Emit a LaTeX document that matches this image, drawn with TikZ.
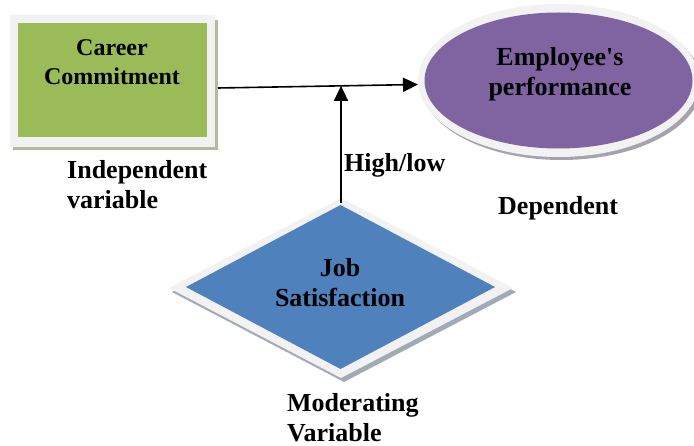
\documentclass[tikz,border=0pt]{standalone}
\usepackage{fontspec}
\setmainfont{Liberation Serif}
\usetikzlibrary{shapes.geometric,arrows.meta,calc}
\definecolor{ccgreen}{HTML}{9BBB59}
\definecolor{eppurple}{HTML}{8064A2}
\definecolor{jsblue}{HTML}{4F81BD}
\definecolor{framegray}{HTML}{F2F2F2}
\definecolor{boxshadow}{HTML}{B4BC9F}
\definecolor{ellshadow}{HTML}{A6A2AE}
\definecolor{diashadow}{HTML}{A0AAB8}
\begin{document}
\begin{tikzpicture}[x=1pt,y=-1pt,
  lbl/.style={font=\bfseries\fontsize{26}{30}\selectfont, align=left, inner sep=0pt},
  inlbl/.style={font=\bfseries\fontsize{24}{29}\selectfont, align=center, inner sep=0pt},
  rectbox/.style={rectangle, inner sep=0pt, outer sep=0pt, draw=none},
  ellbox/.style={ellipse, inner sep=0pt, outer sep=0pt, draw=none},
  diabox/.style={diamond, inner sep=0pt, outer sep=0pt, draw=none},
  arr/.style={line width=1.6pt, -{Triangle[length=15pt,width=14pt]}}
]
\useasboundingbox (0,0) rectangle (694,446);
% Career Commitment box
\node[rectbox, fill=boxshadow, minimum width=205pt, minimum height=130pt] (ccs) at (115.5,85) {};
\node[rectbox, fill=framegray, minimum width=205pt, minimum height=132pt] (ccf) at (112.5,81) {};
\node[rectbox, fill=ccgreen, minimum width=189pt, minimum height=114pt] (cc) at (112.5,80) {};
\node[inlbl] (cct) at (112,62) {Career\\Commitment};
% Employee's performance ellipse
\node[ellbox, fill=ellshadow, minimum width=281pt, minimum height=152pt] (eps) at (561.5,84) {};
\node[ellbox, fill=framegray, minimum width=281pt, minimum height=153pt] (epf) at (558.5,80.5) {};
\node[ellbox, fill=eppurple, minimum width=268pt, minimum height=136pt] (ep) at (558.5,80.5) {};
\node[lbl, align=center] (ept) at (560,74) {Employee\textquotesingle s\\performance};
% Job Satisfaction diamond
\node[diabox, fill=diashadow, minimum width=344pt, minimum height=180pt] (jss) at (344,292) {};
\node[diabox, fill=framegray, minimum width=344pt, minimum height=180pt] (jsf) at (341,288) {};
\node[diabox, fill=jsblue, minimum width=309pt, minimum height=164pt] (js) at (340.5,287) {};
\node[lbl, align=center] (jst) at (340,283) {Job\\Satisfaction};
% labels
\node[lbl, anchor=west] (iv) at (67,185) {Independent\\variable};
\node[lbl, anchor=west] (hl) at (344,165) {High/low};
\node[lbl, anchor=west] (dep) at (498,208) {Dependent};
\node[lbl, anchor=west] (mv) at (287,418) {Moderating\\Variable};
% connectors
\coordinate (a) at ($(ccf.east)+(3pt,-7pt)$);
\coordinate (b) at ($(epf.west)+(0pt,-4pt)$);
\draw[arr] (a) -- (b);
\coordinate (m) at ($(a)!0.61!(b)$);
\draw[arr] ([yshift=-5pt]jsf.north) -- (jsf.north |- m);
\end{tikzpicture}
\end{document}
